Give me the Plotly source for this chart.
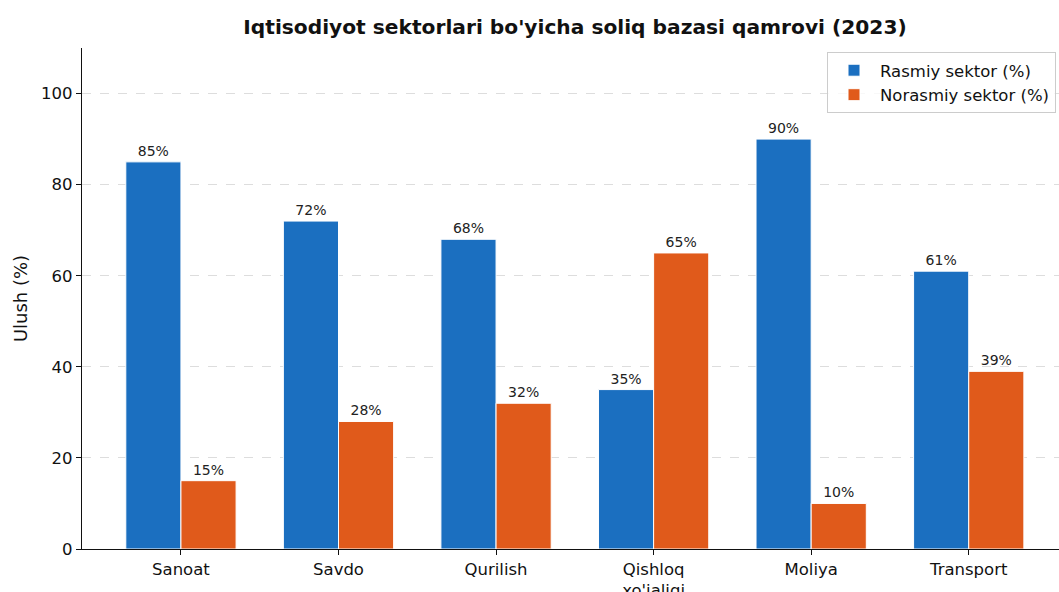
import plotly.graph_objects as go

categories = ["Sanoat", "Savdo", "Qurilish", "Qishloq<br>xo'jaligi", "Moliya", "Transport"]
rasmiy = [85, 72, 68, 35, 90, 61]
norasmiy = [15, 28, 32, 65, 10, 39]
series_names = ["Rasmiy sektor (%)", "Norasmiy sektor (%)"]
y_ticks = [0, 20, 40, 60, 80, 100]

BLUE = "#1b6fc0"
ORANGE = "#e05a1b"
FONT = "DejaVu Sans"

fig = go.Figure()
for name, vals, col in [(series_names[0], rasmiy, BLUE), (series_names[1], norasmiy, ORANGE)]:
    fig.add_trace(go.Bar(
        x=categories, y=vals, name=name,
        marker=dict(color=col, line=dict(color="white", width=1)),
        text=[f"{v}%" for v in vals], textposition="outside",
        textfont=dict(family=FONT, size=14, color="#222"),
        cliponaxis=False,
    ))

fig.update_layout(
    width=1059, height=592,
    margin=dict(l=82, r=0, t=48, b=43, autoexpand=False),
    paper_bgcolor="white", plot_bgcolor="white",
    barmode="group", bargap=0.3, bargroupgap=0,
    font=dict(family=FONT, size=16.5, color="#111"),
    title=dict(text="<b>Iqtisodiyot sektorlari bo'yicha soliq bazasi qamrovi (2023)</b>",
               x=(575) / 1059, xanchor="center", y=1 - 27 / 592, yanchor="middle",
               font=dict(family=FONT, size=20.2, color="#111")),
    legend=dict(x=(827 - 82) / 977, y=(549 - 52) / 501, xanchor="left", yanchor="top",
                bordercolor="#cccccc", borderwidth=1, bgcolor="rgba(255,255,255,0.8)",
                font=dict(family=FONT, size=16.5), tracegroupgap=0, itemwidth=42),
)
fig.update_xaxes(
    range=[-0.628, 5.573], showline=True, linecolor="#111", linewidth=1.2,
    ticks="outside", ticklen=5, tickcolor="#111", showgrid=False,
    tickfont=dict(family=FONT, size=16.5), automargin=False,
)
fig.update_yaxes(
    range=[0, 110], tickvals=y_ticks, showline=True, linecolor="#111", linewidth=1.2,
    ticks="outside", ticklen=5, tickcolor="#111",
    showgrid=True, gridcolor="#dddddd", griddash="dash", gridwidth=1,
    zeroline=False, tickfont=dict(family=FONT, size=16.5), automargin=False,
    title=dict(text="Ulush (%)", font=dict(family=FONT, size=18), standoff=8),
)
fig.write_html("out.html")
